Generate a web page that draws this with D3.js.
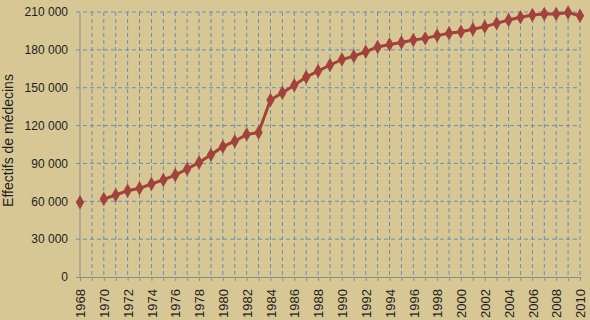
<!DOCTYPE html>
<html>
<head>
<meta charset="utf-8">
<script src="https://cdn.jsdelivr.net/npm/d3@7/dist/d3.min.js"></script>
<style>
  body { margin: 0; background: #d7c794; }
  svg { display: block; }
  .axis text { font-family: "Liberation Sans", Arial, sans-serif; font-size: 12px; fill: #1e1e1e; }
  .axis path, .axis line { stroke: #8c8c8c; }
</style>
</head>
<body>
<script>
// Effectifs de médecins, 1968-2010 (1969 : pas de donnée)
var years = d3.range(1968, 2011);
var effectifs = [
  59200, null, 61800, 65000, 68400, 70300, 73700, 76900, 80800, 85600,
  90800, 96800, 103300, 107600, 113000, 114500, 140300, 146000, 152000, 158500,
  163200, 168000, 172300, 175000, 178500, 182300, 184300, 185800, 187800, 189100,
  191300, 193200, 194400, 196300, 198400, 201000, 203700, 205800, 207600, 208400,
  208500, 209600, 207000
];
var yTicks = [0, 30000, 60000, 90000, 120000, 150000, 180000, 210000];
var xLabelYears = d3.range(1968, 2011, 2);

var svgWidth = 590;
var svgHeight = 320;

var margin = { top: 12, right: 10, bottom: 43, left: 80 };
var chartWidth = svgWidth - margin.left - margin.right;
var chartHeight = svgHeight - margin.top - margin.bottom;

var svg = d3.select("body")
  .append("svg")
  .attr("width", svgWidth)
  .attr("height", svgHeight);

var chartGroup = svg.append("g")
  .attr("transform", `translate(${margin.left},${margin.top})`);

var data = years.map(function (y, i) { return { year: y, value: effectifs[i] }; });

// scales
var xScale = d3.scaleLinear()
  .domain([1968, 2010])
  .range([0, chartWidth]);

var yScale = d3.scaleLinear()
  .domain([0, 210000])
  .range([chartHeight, 0]);

// grid
chartGroup.append("g")
  .selectAll("line")
  .data(years.slice(1))
  .enter()
  .append("line")
  .attr("x1", d => xScale(d))
  .attr("x2", d => xScale(d))
  .attr("y1", 0)
  .attr("y2", chartHeight)
  .attr("stroke", "#6c8cb2")
  .attr("stroke-dasharray", "4,3");

chartGroup.append("g")
  .selectAll("line")
  .data(yTicks.slice(1))
  .enter()
  .append("line")
  .attr("x1", -4)
  .attr("x2", chartWidth)
  .attr("y1", d => yScale(d))
  .attr("y2", d => yScale(d))
  .attr("stroke", "#6c8cb2")
  .attr("stroke-dasharray", "4,3");

// axes
var fmt = function (d) { return d3.format(",")(d).replace(/,/g, " "); };

var leftAxis = d3.axisLeft(yScale)
  .tickValues(yTicks)
  .tickFormat(fmt)
  .tickSize(4)
  .tickPadding(8);

var bottomAxis = d3.axisBottom(xScale)
  .tickValues(years)
  .tickFormat(d => (xLabelYears.indexOf(d) >= 0 ? d : ""))
  .tickSize(4)
  .tickSizeOuter(0);

chartGroup.append("g")
  .attr("class", "axis")
  .call(leftAxis)
  .call(g => g.select(".domain").attr("d", `M0,0V${chartHeight}`))
  .call(g => g.selectAll(".tick line").filter(d => d > 0).remove());

chartGroup.append("g")
  .attr("class", "axis")
  .attr("transform", `translate(0, ${chartHeight})`)
  .call(bottomAxis)
  .selectAll("text")
  .attr("font-size", 13)
  .style("font-size", "13px")
  .attr("transform", "rotate(-90)")
  .attr("text-anchor", "end")
  .attr("x", -12)
  .attr("y", 0)
  .attr("dy", "0.36em");

// y title
svg.append("text")
  .attr("transform", `translate(13, ${margin.top + chartHeight / 2 - 4}) rotate(-90)`)
  .attr("text-anchor", "middle")
  .attr("font-family", "Liberation Sans, Arial, sans-serif")
  .attr("font-size", 14)
  .attr("fill", "#1e1e1e")
  .text("Effectifs de médecins");

// line
var line = d3.line()
  .defined(d => d.value !== null)
  .x(d => xScale(d.year))
  .y(d => yScale(d.value));

chartGroup.append("path")
  .datum(data)
  .attr("fill", "none")
  .attr("stroke", "#a1423c")
  .attr("stroke-width", 3)
  .attr("d", line);

var diamond = d3.symbol().type(d3.symbolDiamond).size(60);

chartGroup.selectAll(".marker")
  .data(data.filter(d => d.value !== null))
  .enter()
  .append("path")
  .attr("class", "marker")
  .attr("transform", d => `translate(${xScale(d.year)},${yScale(d.value)})`)
  .attr("d", diamond)
  .attr("fill", "#a1423c");
</script>
</body>
</html>
